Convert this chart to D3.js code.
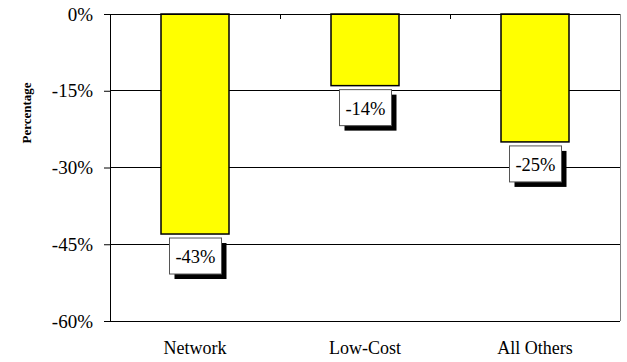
<!DOCTYPE html>
<html><head><meta charset="utf-8">
<script src="https://cdn.jsdelivr.net/npm/d3@7"></script>
<style>body{margin:0;background:#fff}svg{display:block}text{font-family:"Liberation Serif","Times New Roman",serif}</style>
</head><body><svg id="c" width="627" height="362"></svg>
<script>
const categories = ["Network", "Low-Cost", "All Others"];
const values = [-43, -14, -25];
const yTicks = [0, -15, -30, -45, -60];
const yTitle = "Percentage";

const svg = d3.select("#c");
const m = {l:110, r:620, t:14, b:321};
const x = d3.scaleBand().domain(categories).range([m.l, m.r]).paddingInner(0.6).paddingOuter(0.3);
const xb = d3.scaleBand().domain(categories).range([m.l, m.r]);
const y = d3.scaleLinear().domain([0, -60]).range([m.t, m.b]);

// gridlines
svg.append("g").selectAll("line").data(yTicks.slice(1)).join("line")
  .attr("x1", m.l).attr("x2", m.r).attr("y1", d=>y(d)).attr("y2", d=>y(d))
  .attr("stroke", "#000").attr("stroke-width", 1).attr("shape-rendering","crispEdges");
// right border
svg.append("line").attr("x1", m.r).attr("x2", m.r).attr("y1", m.t).attr("y2", m.b)
  .attr("stroke", "#808080").attr("shape-rendering","crispEdges");

// y axis
const yAxis = svg.append("g").attr("transform", `translate(${m.l},0)`)
  .call(d3.axisLeft(y).tickValues(yTicks).tickSize(6).tickPadding(11).tickFormat(d => d + "%"));
yAxis.select(".domain").attr("stroke", "#000");
yAxis.selectAll("line").attr("stroke", "#000");
yAxis.selectAll("text").attr("font-size", 19).attr("fill", "#000")
  .attr("font-family", '"Liberation Serif",serif');

// bars
svg.append("g").selectAll("rect").data(values).join("rect")
  .attr("x", (d,i)=>x(categories[i]))
  .attr("y", d=>y(0))
  .attr("width", x.bandwidth())
  .attr("height", d=>y(d)-y(0))
  .attr("fill", "#ffff00").attr("stroke", "#000").attr("stroke-width", 1.5);

// top category axis
const xAxis = svg.append("g").attr("transform", `translate(0,${m.t})`);
xAxis.append("line").attr("x1", m.l).attr("x2", m.r).attr("y1", 0).attr("y2", 0)
  .attr("stroke", "#000").attr("shape-rendering","crispEdges");
xAxis.selectAll("line.t").data(categories.slice(1)).join("line").attr("class","t")
  .attr("x1", d=>xb(d)).attr("x2", d=>xb(d)).attr("y1", 0).attr("y2", 5)
  .attr("stroke", "#000").attr("shape-rendering","crispEdges");

// category labels at bottom
svg.append("g").selectAll("text").data(categories).join("text")
  .attr("x", d=>xb(d)+xb.bandwidth()/2).attr("y", 354)
  .attr("text-anchor", "middle").attr("font-size", 18).text(d=>d);

// value labels with shadow
const lw = 52, lh = 36, off = 5;
const lg = svg.append("g").selectAll("g").data(values).join("g")
  .attr("transform", (d,i)=>`translate(${x(categories[i]) + x.bandwidth()/2 - lw/2 + 0.5},${y(d)+4})`);
lg.append("rect").attr("x", off).attr("y", off).attr("width", lw).attr("height", lh).attr("fill", "#000");
lg.append("rect").attr("width", lw).attr("height", lh).attr("fill", "#fff").attr("stroke", "#555").attr("stroke-width", 1);
lg.append("text").attr("x", lw/2).attr("y", 25).attr("text-anchor", "middle").attr("font-size", 18.5).text(d=>d + "%");

// y title
svg.append("text").attr("transform", "translate(31,113) rotate(-90)")
  .attr("text-anchor", "middle").attr("font-size", 13).attr("font-weight", "bold").text(yTitle);
</script></body></html>
